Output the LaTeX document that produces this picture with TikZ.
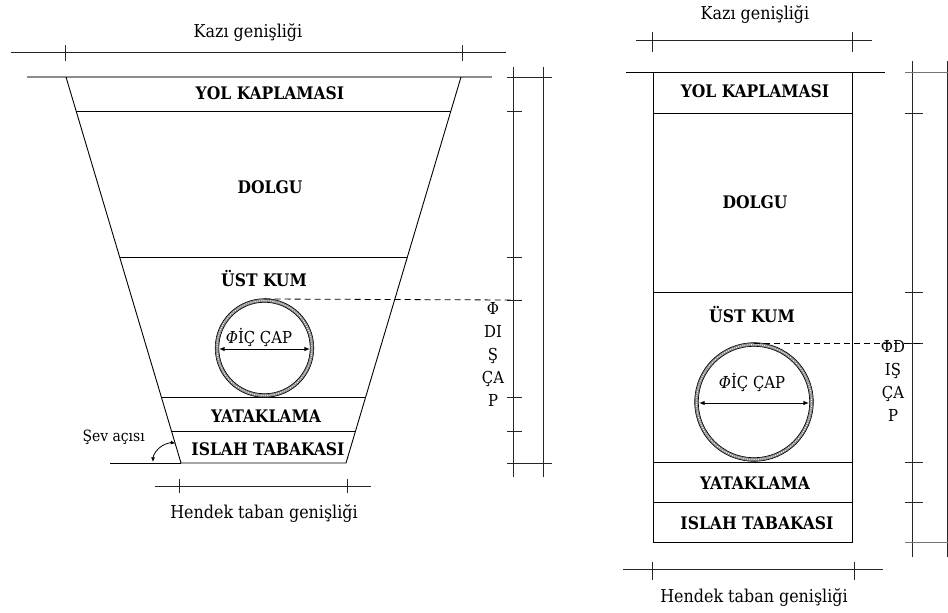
\documentclass[tikz,border=0pt]{standalone}
\usepackage{fontspec}
\setmainfont{DejaVu Serif Condensed}
\usepackage{tikz}
\usetikzlibrary{arrows.meta,calc}
\tikzset{%
  layerLine/.style={%
    line width=0.9pt,
    draw=black
  },
  groundLine/.style={%
    line width=1.8pt,
    draw=black!45
  },
  dimLine/.style={%
    line width=0.9pt,
    draw=black!85
  },
  dashLine/.style={%
    dashed,
    dash pattern=on 6pt off 4pt,
    line width=0.8pt
  },
  layerLabel/.style={%
    font=\fontsize{17.3}{20}\selectfont\bfseries,
    inner sep=0pt
  },
  dimLabel/.style={%
    font=\fontsize{17.7}{23}\selectfont,
    inner sep=0pt
  },
  diaLabel/.style={%
    font=\fontsize{16.5}{23}\selectfont,
    align=center,
    inner sep=0pt
  },
  arrowLine/.style={%
    {Latex[length=2mm,width=1.6mm]}-{Latex[length=2mm,width=1.6mm]},
    line width=0.9pt
  },
  angleArrow/.style={%
    {Latex[length=1.6mm,width=1.4mm]}-{Latex[length=1.6mm,width=1.4mm]},
    line width=0.8pt
  },
  pipeWall/.style={%
    line width=3.6pt,
    draw=black!45
  },
  pipeGrain/.style={%
    line width=0.9pt,
    draw=white,
    dash pattern=on 0.8pt off 1.4pt
  }
}

\begin{document}
\begin{tikzpicture}[x=1pt,y=-1pt]
  \useasboundingbox (0,0) rectangle (948,613);

  % sloped trench
  \coordinate (lTL) at (66,77);
  \coordinate (lTR) at (461,77);
  \coordinate (lBL) at (181,463);
  \coordinate (lBR) at (346,463);
  \coordinate (lGround) at (110,463);

  \draw[groundLine] (27,77) -- (492,77);
  \draw[layerLine] (lTL) -- (lBL) -- (lBR) -- (lTR);
  \draw[layerLine] (lGround) -- (lBL);
  \foreach \f in {0.0881,0.4663,0.829,0.9171}
    \draw[layerLine] ($(lTL)!\f!(lBL)$) -- ($(lTR)!\f!(lBR)$);

  \node[layerLabel] (lYol) at (270,93) {YOL KAPLAMASI};
  \node[layerLabel] (lDolgu) at (270,187) {DOLGU};
  \node[layerLabel] (lUst) at (264,278) {ÜST KUM};
  \node[layerLabel] (lYatak) at (266,416) {YATAKLAMA};
  \node[layerLabel] (lIslah) at (268,449) {ISLAH TABAKASI};

  % pipe
  \coordinate (lPipe) at (264.5,348);
  \coordinate (lPipeTop) at (264.5,299);
  \draw[pipeWall] (lPipe) circle[radius=47.5pt];
  \draw[pipeGrain] (lPipe) circle[radius=47.5pt];
  \draw[line width=0.6pt] (lPipe) circle[radius=49.3pt];
  \draw[line width=0.6pt] (lPipe) circle[radius=45.7pt];
  \coordinate (lInL) at (219,349);
  \coordinate (lInR) at (310,349);
  \draw[arrowLine] (lInL) -- (lInR);
  \node[diaLabel] (lIcCap) at (259,337) {{\itshape Φ}İÇ ÇAP};

  % slope angle
  \coordinate (lArcS) at (153,462);
  \draw[angleArrow] (lArcS) arc[start angle=180, end angle=80, radius=19pt];
  \node[dimLabel, font=\fontsize{15.5}{20}\selectfont, anchor=east] (lSev) at (145,437) {Şev açısı};

  % widths
  \draw[dimLine] (11,52) -- (506,52);
  \foreach \x in {65,462}
    \draw[dimLine] (\x,45) -- (\x,61);
  \node[dimLabel] (lKazi) at (248,33) {Kazı genişliği};

  \draw[dimLine] (155,486) -- (371,486);
  \foreach \x in {179,347}
    \draw[dimLine] (\x,479) -- (\x,493);
  \node[dimLabel] (lHendek) at (264,514) {Hendek taban genişliği};

  % depths
  \draw[dimLine] (513,67) -- (513,477);
  \draw[dimLine] (543,67) -- (543,477);
  \foreach \y in {77,463}
    \draw[dimLine] (507,\y) -- (552,\y);
  \foreach \y in {111,257,300,397,431}
    \draw[dimLine] (507,\y) -- (522,\y);
  \coordinate (lDimP) at (513,300);
  \draw[dashLine] (lPipeTop) -- (lDimP);
  \node[diaLabel] (lDisCap) at (493,354) {Φ\\DI\\Ş\\ÇA\\P};

  % vertical trench
  \coordinate (rTL) at (653,72);
  \coordinate (rBR) at (852,542);

  \draw[layerLine] (626,72) -- (885,72);
  \draw[layerLine] (rTL) rectangle (rBR);
  \foreach \y in {113,292,462,502}
    \draw[layerLine] (653,\y) -- (852,\y);

  \node[layerLabel] (rYol) at (755,91) {YOL KAPLAMASI};
  \node[layerLabel] (rDolgu) at (755,202) {DOLGU};
  \node[layerLabel] (rUst) at (752,314) {ÜST KUM};
  \node[layerLabel] (rYatak) at (755,483) {YATAKLAMA};
  \node[layerLabel] (rIslah) at (757,523) {ISLAH TABAKASI};

  % pipe
  \coordinate (rPipe) at (754,402);
  \coordinate (rPipeTop) at (754,343);
  \draw[pipeWall] (rPipe) circle[radius=57.5pt];
  \draw[pipeGrain] (rPipe) circle[radius=57.5pt];
  \draw[line width=0.6pt] (rPipe) circle[radius=59.3pt];
  \draw[line width=0.6pt] (rPipe) circle[radius=55.7pt];
  \coordinate (rInL) at (699,403);
  \coordinate (rInR) at (809,403);
  \draw[arrowLine] (rInL) -- (rInR);
  \node[diaLabel] (rIcCap) at (752,382) {{\itshape Φ}İÇ ÇAP};

  % widths
  \draw[dimLine] (636,40) -- (872,40);
  \foreach \x in {652,852}
    \draw[dimLine] (\x,32) -- (\x,52);
  \node[dimLabel] (rKazi) at (755,15) {Kazı genişliği};

  \draw[dimLine] (623,569) -- (883,569);
  \foreach \x in {652,854}
    \draw[dimLine] (\x,562) -- (\x,580);
  \node[dimLabel] (rHendek) at (754,598) {Hendek taban genişliği};

  % depths
  \draw[dimLine] (912,61) -- (912,557);
  \draw[dimLine] (947,61) -- (947,557);
  \foreach \y in {72,542}
    \draw[dimLine, draw=black!55] (905,\y) -- (948,\y);
  \foreach \y in {113,292,343,462,502}
    \draw[dimLine] (905,\y) -- (923,\y);
  \coordinate (rDimP) at (923,343);
  \draw[dashLine] (rPipeTop) -- (rDimP);
  \node[diaLabel] (rDisCap) at (893,381) {ΦD\\IŞ\\ÇA\\P};
\end{tikzpicture}
\end{document}
